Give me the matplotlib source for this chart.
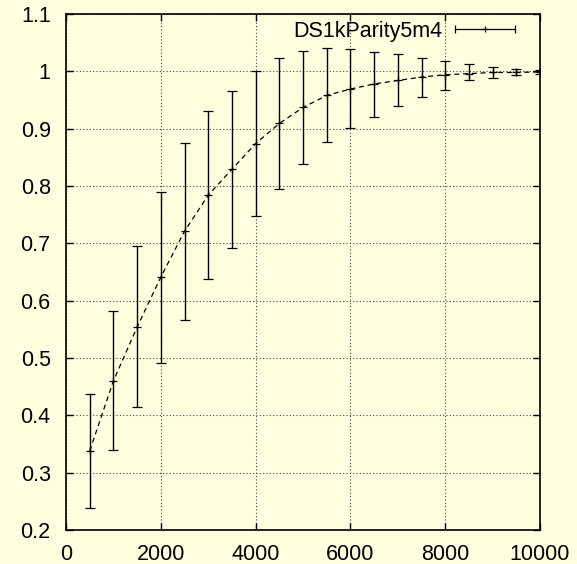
import numpy as np
import matplotlib
matplotlib.use("Agg")
import matplotlib.pyplot as plt
from matplotlib.lines import Line2D
from matplotlib.legend_handler import HandlerBase

plt.rcParams['font.family'] = ['Liberation Sans', 'DejaVu Sans']

# training set size vs. mean score with min/max spread
sizes = [500, 1000, 1500, 2000, 2500, 3000, 3500, 4000, 4500, 5000,
         5500, 6000, 6500, 7000, 7500, 8000, 8500, 9000, 9500, 10000]
mean = [0.338, 0.460, 0.554, 0.641, 0.721, 0.784, 0.829, 0.874, 0.909, 0.937,
        0.958, 0.969, 0.978, 0.984, 0.990, 0.994, 0.996, 0.998, 0.998, 0.999]
low = [0.238, 0.339, 0.414, 0.491, 0.567, 0.637, 0.692, 0.748, 0.794, 0.838,
       0.877, 0.901, 0.920, 0.939, 0.955, 0.968, 0.984, 0.988, 0.993, 0.996]
high = [0.437, 0.582, 0.695, 0.790, 0.875, 0.931, 0.966, 1.001, 1.024, 1.036,
        1.040, 1.039, 1.034, 1.030, 1.024, 1.018, 1.012, 1.008, 1.004, 1.002]
label = "DS1kParity5m4"

bg = '#ffffe0'


class ErrorbarHandle(HandlerBase):
    # gnuplot-style key sample: horizontal bar with end caps and a centre tick
    def create_artists(self, legend, orig, xd, yd, w, h, fs, trans):
        y = h / 2 - yd
        x0, x1 = -xd, w - xd
        bar = Line2D([x0, x1], [y, y], color='k', lw=0.9)
        caps = Line2D([x0, x1], [y, y], ls='none', marker='|', ms=6,
                      mew=0.9, color='k')
        mid = Line2D([(x0 + x1) / 2], [y], ls='none', marker='+', ms=5,
                     mew=0.9, color='k')
        for a in (bar, caps, mid):
            a.set_transform(trans)
        return [bar, caps, mid]


fig = plt.figure(figsize=(5.77, 5.64), dpi=100, facecolor=bg)
ax = fig.add_axes([0.1144, 0.0603, 0.8215, 0.9149], facecolor=bg)

x = np.array(sizes)
m = np.array(mean)
yerr = np.vstack([m - np.array(low), np.array(high) - m])

ax.plot(x, m, color='k', lw=0.9, dashes=(4, 3), zorder=2)
eb = ax.errorbar(x, m, yerr=yerr, fmt='+', color='k', ms=6, mew=0.9,
                 elinewidth=1.0, capsize=3.3, capthick=1.0, zorder=3)

ax.set_xlim(0, 10000)
ax.set_ylim(0.2, 1.1)
ax.set_xticks(np.arange(0, 10001, 2000))
ax.set_yticks(np.arange(0.2, 1.101, 0.1))
ax.set_yticklabels(['0.2', '0.3', '0.4', '0.5', '0.6', '0.7', '0.8', '0.9',
                    '1', '1.1'])
ax.tick_params(direction='in', length=5, width=1, labelsize=15.5,
               top=True, right=True)
ax.tick_params(axis='y', pad=11)
ax.tick_params(axis='x', pad=10)
ax.grid(True, color='#444444', lw=0.8, linestyle=(0, (1, 2)))
for s in ax.spines.values():
    s.set_linewidth(1.2)

leg = ax.legend([eb], [label], handler_map={type(eb): ErrorbarHandle()},
                loc='center right', bbox_to_anchor=(0.947, 0.966),
                frameon=False, fontsize=15.5, markerfirst=False,
                handlelength=2.8, handletextpad=0.55, borderpad=0,
                borderaxespad=0)

fig.savefig('out.png', dpi=100, facecolor=bg)
